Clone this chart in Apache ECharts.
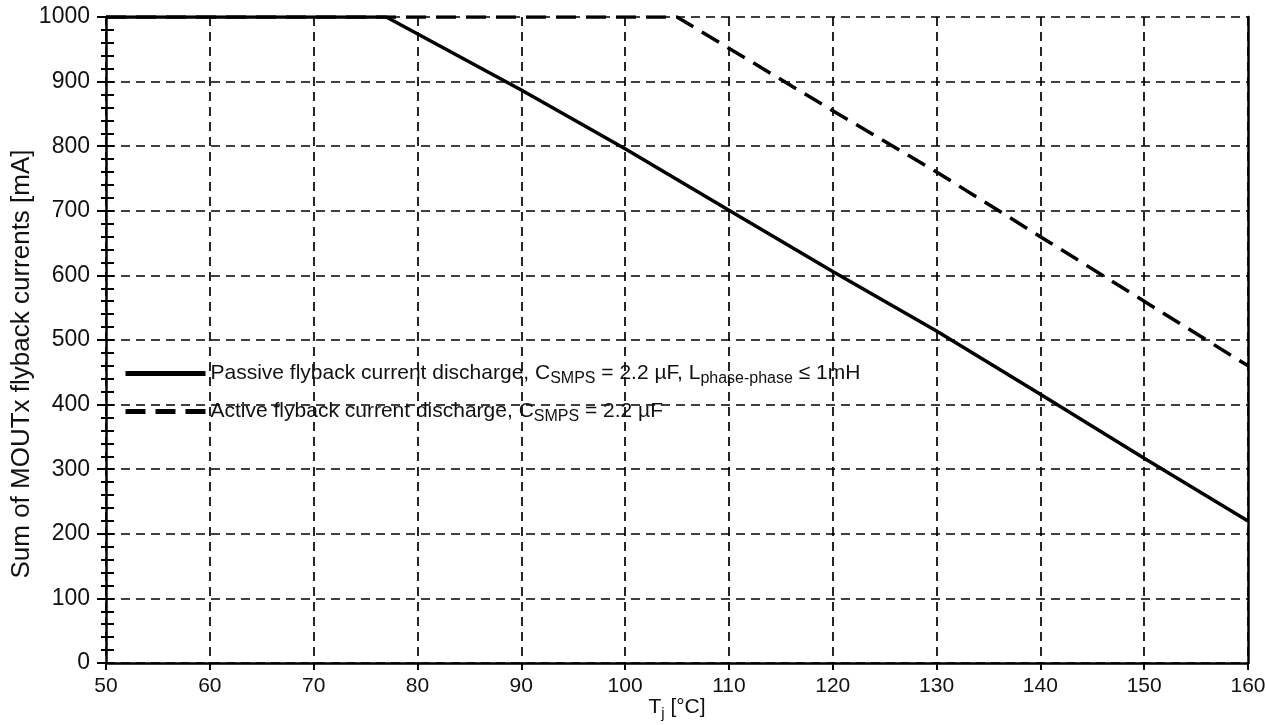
<!DOCTYPE html>
<html><head><meta charset="utf-8">
<script src="https://cdn.jsdelivr.net/npm/echarts@6/dist/echarts.min.js"></script>
<style>html,body{margin:0;padding:0;background:#fff}#c{width:1266px;height:725px}</style>
</head><body><div id="c"></div>
<script>
const xTicks = [50,60,70,80,90,100,110,120,130,140,150,160];
const yTicks = [0,100,200,300,400,500,600,700,800,900,1000];
const passiveT = [50,77,90,100,110,120,130,140,150,160];
const passiveI = [1000,1000,887,796,701,606,514,416,317,220];
const activeT = [50,105,120,130,140,150,160];
const activeI = [1000,1000,855,760,660,560,460];
const passiveName = 'Passive flyback current discharge, C{sub|SMPS} = 2.2 µF, L{sub|phase-phase} ≤ 1mH';
const activeName = 'Active flyback current discharge, C{sub|SMPS} = 2.2 µF';

const FONT = 'Liberation Sans, Arial, sans-serif';
const gridDash = {color:'#000', width:1.7, type:[9,6]};
const chart = echarts.init(document.getElementById('c'));
chart.setOption({
  animation:false,
  backgroundColor:'#fff',
  grid:{left:106,right:18,top:17,bottom:62,containLabel:false,outerBoundsMode:'none'},
  legend:{
    orient:'vertical', left:118, top:358, itemWidth:80, itemHeight:14, itemGap:14,
    data:[passiveName, activeName],
    itemStyle:{opacity:0},
    lineStyle:{width:5},
    textStyle:{fontFamily:FONT,fontSize:21,color:'#111',
      rich:{sub:{fontFamily:FONT,fontSize:16,color:'#111',padding:[11,0,0,0]}}}
  },
  xAxis:{
    type:'value', min:50, max:160, interval:10,
    name:'T{sub|j} [°C]', nameLocation:'middle', nameGap:31, nameMoveOverlap:false,
    nameTextStyle:{fontFamily:FONT,fontSize:21,color:'#111',
      rich:{sub:{fontFamily:FONT,fontSize:15,color:'#111',padding:[12,0,0,0]}}},
    axisLine:{show:true,onZero:false,lineStyle:{color:'#000',width:2.5}},
    axisTick:{show:true,length:7,lineStyle:{color:'#000',width:2}},
    axisLabel:{fontFamily:FONT,fontSize:21,color:'#111',margin:13,
      formatter:v=>xTicks.includes(v)?String(v):''},
    splitLine:{show:true,lineStyle:gridDash}
  },
  yAxis:[{
    type:'value', min:0, max:1000, interval:100, position:'left',
    name:'Sum of MOUTx flyback currents [mA]', nameLocation:'middle', nameGap:71, nameMoveOverlap:false,
    nameTextStyle:{fontFamily:FONT,fontSize:26,color:'#111',padding:[0,48,0,0]},
    axisLine:{show:true,onZero:false,lineStyle:{color:'#000',width:2.5}},
    axisTick:{show:true,length:9,lineStyle:{color:'#000',width:2}},
    minorTick:{show:true,splitNumber:5,length:5,lineStyle:{color:'#000',width:2}},
    axisLabel:{fontFamily:FONT,fontSize:23,color:'#111',margin:16,
      formatter:v=>yTicks.includes(v)?String(v):''},
    splitLine:{show:true,lineStyle:gridDash}
  },{
    type:'value', min:0, max:1000, interval:100, position:'left', offset:0,
    axisLine:{show:false},
    axisTick:{show:true,inside:true,length:8,lineStyle:{color:'#000',width:2}},
    minorTick:{show:true,splitNumber:5,length:8,lineStyle:{color:'#000',width:2}},
    axisLabel:{show:false}, splitLine:{show:false}
  },{
    type:'value', min:0, max:1000, interval:100, position:'right', offset:0,
    axisLine:{show:true,onZero:false,lineStyle:{color:'#000',width:2.5}},
    axisTick:{show:false}, axisLabel:{show:false}, splitLine:{show:false}
  }],
  series:[{
    name:passiveName, type:'line', symbol:'none', yAxisIndex:0,
    data:passiveT.map((t,i)=>[t,passiveI[i]]),
    lineStyle:{color:'#000',width:3.5,type:'solid'}, itemStyle:{color:'#000'}, z:5
  },{
    name:activeName, type:'line', symbol:'none', yAxisIndex:0,
    data:activeT.map((t,i)=>[t,activeI[i]]),
    lineStyle:{color:'#000',width:3.5,type:[20,10]}, itemStyle:{color:'#000'}, z:4
  }]
});
</script></body></html>
